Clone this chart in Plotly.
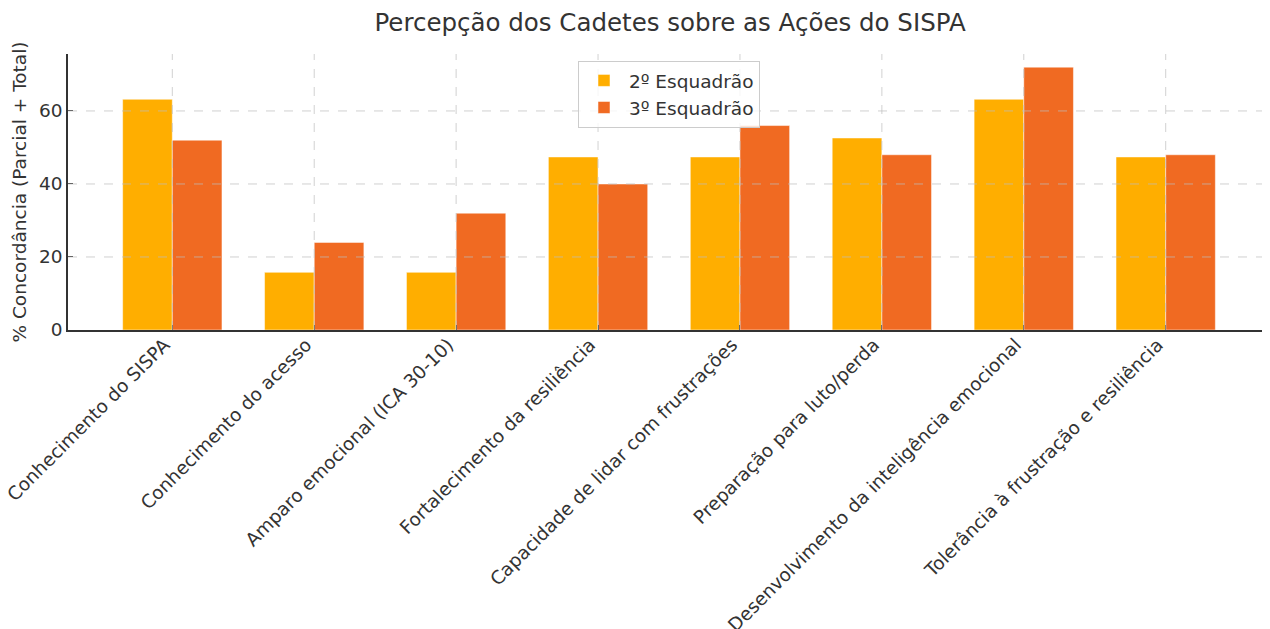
import plotly.graph_objects as go

categories = [
    "Conhecimento do SISPA",
    "Conhecimento do acesso",
    "Amparo emocional (ICA 30-10)",
    "Fortalecimento da resiliência",
    "Capacidade de lidar com frustrações",
    "Preparação para luto/perda",
    "Desenvolvimento da inteligência emocional",
    "Tolerância à frustração e resiliência",
]
esq2 = [63.2, 15.8, 15.8, 47.4, 47.4, 52.6, 63.2, 47.4]
esq3 = [52.0, 24.0, 32.0, 40.0, 56.0, 48.0, 72.0, 48.0]
series_names = ["2º Esquadrão", "3º Esquadrão"]
y_ticks = [0, 20, 40, 60]

FONT = "DejaVu Sans, Verdana, sans-serif"
TXT = "#333333"

# The page body adds an 8px margin on the left/top; the figure fills the rest.
W, H = 1262, 621

fig = go.Figure()
fig.add_trace(go.Bar(x=categories, y=esq2, name=series_names[0],
                     marker=dict(color="#FFAE00", line=dict(color="rgba(255,255,255,0.5)", width=1))))
fig.add_trace(go.Bar(x=categories, y=esq3, name=series_names[1],
                     marker=dict(color="#F06A22", line=dict(color="rgba(255,255,255,0.5)", width=1))))

ymax = max(max(esq2), max(esq3)) * 1.05
n = len(categories)

shapes = []
grid = dict(color="rgba(190,190,190,0.7)", width=1, dash="dash")
for c in categories:
    shapes.append(dict(type="line", xref="x", yref="paper", x0=c, x1=c, y0=0, y1=1,
                       line=grid, layer="above"))
for t in y_ticks[1:]:
    shapes.append(dict(type="line", xref="paper", yref="y", x0=0, x1=1, y0=t, y1=t,
                       line=grid, layer="above"))

fig.update_layout(
    width=W, height=H,
    margin=dict(l=60, r=0, t=46, b=299),
    paper_bgcolor="white", plot_bgcolor="white",
    font=dict(family=FONT, size=18.5, color=TXT),
    title=dict(text="Percepção dos Cadetes sobre as Ações do SISPA",
               x=0.5246, xanchor="center", y=1 - 14 / H, yanchor="middle",
               font=dict(size=24.5, color=TXT)),
    barmode="group", bargap=0.3, bargroupgap=0,
    shapes=shapes,
    legend=dict(x=0.5, xanchor="center", y=0.975, yanchor="top",
                bgcolor="rgba(255,255,255,0.8)", bordercolor="#cccccc", borderwidth=1,
                font=dict(size=18.5, color=TXT), traceorder="normal", itemwidth=40),
    showlegend=True,
)
fig.update_xaxes(
    range=[-0.735, n - 1 + 0.735], automargin=False,
    tickangle=-45, tickfont=dict(size=18.5, color=TXT),
    ticklabelshift=-8, ticklabelstandoff=-5,
    showgrid=False, showline=True, linecolor=TXT, linewidth=1.5,
    ticks="inside", ticklen=5, tickcolor=TXT, zeroline=False,
)
fig.update_yaxes(
    range=[0, ymax], tickvals=y_ticks, automargin=False,
    tickfont=dict(size=18.5, color=TXT),
    title=dict(text="% Concordância (Parcial + Total)", font=dict(size=18.5, color=TXT), standoff=8),
    showgrid=False, showline=True, linecolor=TXT, linewidth=1.5,
    ticks="inside", ticklen=5, tickcolor=TXT, zeroline=False,
)

fig.write_html("out.html")
